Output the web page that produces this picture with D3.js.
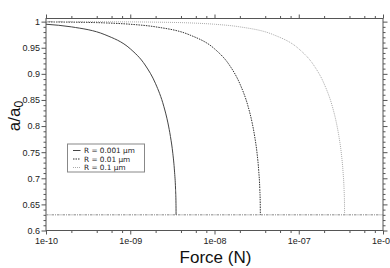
<!DOCTYPE html>
<html><head><meta charset="utf-8">
<script src="https://cdn.jsdelivr.net/npm/d3@7"></script>
<style>
html,body{margin:0;padding:0;background:#fff;}
svg{display:block;font-family:"Liberation Sans",Arial,sans-serif;}
</style></head>
<body>
<svg id="chart" width="390" height="268"></svg>
<script>
// ---- data ----
const seriesNames = ["R = 0.001 µm", "R = 0.01 µm", "R = 0.1 µm"];
const force1 = [1e-10, 2e-10, 5e-10, 1e-9, 1.5e-9, 2e-9, 2.5e-9, 2.8e-9, 3e-9, 3.2e-9, 3.35e-9, 3.45e-9, 3.49e-9, 3.5e-9];
const ratio1 = [0.995, 0.990, 0.975, 0.948, 0.917, 0.881, 0.838, 0.806, 0.780, 0.748, 0.714, 0.679, 0.652, 0.630];
const force2 = [1e-10, 2e-10, 5e-10, 1e-9, 2e-9, 5e-9, 1e-8, 1.5e-8, 2e-8, 2.5e-8, 2.8e-8, 3e-8, 3.2e-8, 3.35e-8, 3.45e-8, 3.49e-8, 3.5e-8];
const ratio2 = [0.9995, 0.999, 0.9976, 0.995, 0.990, 0.975, 0.948, 0.917, 0.881, 0.838, 0.806, 0.780, 0.748, 0.714, 0.679, 0.652, 0.630];
const force3 = [1e-10, 1e-9, 2e-9, 5e-9, 1e-8, 2e-8, 5e-8, 1e-7, 1.5e-7, 2e-7, 2.5e-7, 2.8e-7, 3e-7, 3.2e-7, 3.35e-7, 3.45e-7, 3.49e-7, 3.5e-7];
const ratio3 = [0.99995, 0.9995, 0.999, 0.9976, 0.995, 0.990, 0.975, 0.948, 0.917, 0.881, 0.838, 0.806, 0.780, 0.748, 0.714, 0.679, 0.652, 0.630];
const refForce = [1e-10, 1e-6];
const refRatio = [0.63, 0.63];
const xTickValues = [1e-10, 1e-9, 1e-8, 1e-7, 1e-6];
const xTickLabels = ["1e-10", "1e-09", "1e-08", "1e-07", "1e-06"];
const yTickValues = [0.6, 0.65, 0.7, 0.75, 0.8, 0.85, 0.9, 0.95, 1];
const yTickLabels = ["0.6", "0.65", "0.7", "0.75", "0.8", "0.85", "0.9", "0.95", "1"];

// ---- layout ----
const L = 46, R = 383, T = 18.5, B = 230.5;
const svg = d3.select("#chart");
const x = d3.scaleLog().domain([1e-10, 1e-6]).range([L, R]);
const y = d3.scaleLinear().domain([0.6, 1.006]).range([B, T]);

// minor ticks
const xMinor = [];
for (let e = -10; e < -6; e++) for (const m of [2, 4, 6, 8]) xMinor.push(m * Math.pow(10, e));
const yMinor = [];
for (let i = 0; i <= 40; i++) { const v = 0.6 + i * 0.01; if (i % 5 !== 0) yMinor.push(+v.toFixed(2)); }

const axisColor = "#555";
function styleAxis(g) {
  g.select(".domain").remove();
  g.selectAll(".tick line").attr("stroke", axisColor).attr("stroke-width", 1);
  g.selectAll(".tick text").attr("fill", "#222").style("font-size", "9px");
}
// minor axes
svg.append("g").attr("transform", `translate(0,${B})`)
  .call(d3.axisBottom(x).tickValues(xMinor).tickSize(2.5).tickFormat("")).call(styleAxis);
svg.append("g").attr("transform", `translate(0,${T})`)
  .call(d3.axisTop(x).tickValues(xMinor).tickSize(2.5).tickFormat("")).call(styleAxis);
svg.append("g").attr("transform", `translate(${L},0)`)
  .call(d3.axisLeft(y).tickValues(yMinor).tickSize(2.5).tickFormat("")).call(styleAxis);
svg.append("g").attr("transform", `translate(${R},0)`)
  .call(d3.axisRight(y).tickValues(yMinor).tickSize(2.5).tickFormat("")).call(styleAxis);
// major axes
svg.append("g").attr("transform", `translate(0,${B})`)
  .call(d3.axisBottom(x).tickValues(xTickValues).tickSize(4).tickPadding(3)
    .tickFormat((d, i) => xTickLabels[i])).call(styleAxis);
svg.append("g").attr("transform", `translate(0,${T})`)
  .call(d3.axisTop(x).tickValues(xTickValues).tickSize(4).tickFormat("")).call(styleAxis);
svg.append("g").attr("transform", `translate(${L},0)`)
  .call(d3.axisLeft(y).tickValues(yTickValues).tickSize(4.5).tickPadding(1.5)
    .tickFormat((d, i) => yTickLabels[i])).call(styleAxis);
svg.append("g").attr("transform", `translate(${R},0)`)
  .call(d3.axisRight(y).tickValues(yTickValues).tickSize(4.5).tickFormat("")).call(styleAxis);

// frame
svg.append("rect").attr("x", L).attr("y", T).attr("width", R - L).attr("height", B - T)
  .attr("fill", "none").attr("stroke", axisColor).attr("stroke-width", 1);

// lines
const line = d3.line().x(d => x(d[0])).y(d => y(d[1])).curve(d3.curveMonotoneX);
const styles = [
  { color: "#444", dash: null, w: 1 },
  { color: "#333", dash: "1.5,1", w: 1 },
  { color: "#aaa", dash: "1,1", w: 1 }
];
const forces = [force1, force2, force3];
const ratios = [ratio1, ratio2, ratio3];
const plot = svg.append("g");
plot.append("path")
  .attr("d", d3.line().x(d => x(d[0])).y(d => y(d[1]))(d3.zip(refForce, refRatio)))
  .attr("fill", "none").attr("stroke", "#888").attr("stroke-width", 1).attr("stroke-dasharray", "2.5,1,1,1");
forces.forEach((f, i) => {
  plot.append("path").attr("d", line(d3.zip(f, ratios[i])))
    .attr("fill", "none").attr("stroke", styles[i].color).attr("stroke-width", styles[i].w)
    .attr("stroke-dasharray", styles[i].dash);
});

// legend
const lg = svg.append("g");
lg.append("rect").attr("x", 67.5).attr("y", 144).attr("width", 77).attr("height", 28)
  .attr("fill", "#fff").attr("stroke", "#888").attr("stroke-width", 1);
seriesNames.forEach((name, i) => {
  const yy = 150.5 + i * 8.5;
  lg.append("line").attr("x1", 73).attr("x2", 80.5).attr("y1", yy).attr("y2", yy)
    .attr("stroke", styles[i].color).attr("stroke-width", 1).attr("stroke-dasharray", styles[i].dash);
  lg.append("text").attr("x", 84).attr("y", yy + 2.7)
    .style("font-family", "'DejaVu Sans', sans-serif").style("font-size", "7.3px")
    .attr("fill", "#222").text(name);
});

// axis titles
svg.append("text").attr("x", 215.5).attr("y", 262.5).attr("text-anchor", "middle")
  .style("font-size", "17px").attr("fill", "#111").text("Force (N)");
const yt = svg.append("text").attr("transform", "translate(19.5,116) rotate(-90)")
  .attr("text-anchor", "middle").style("font-size", "17px").attr("fill", "#111");
yt.append("tspan").text("a/a");
yt.append("tspan").attr("dy", 3.5).style("font-size", "12px").text("0");
</script>
</body></html>
